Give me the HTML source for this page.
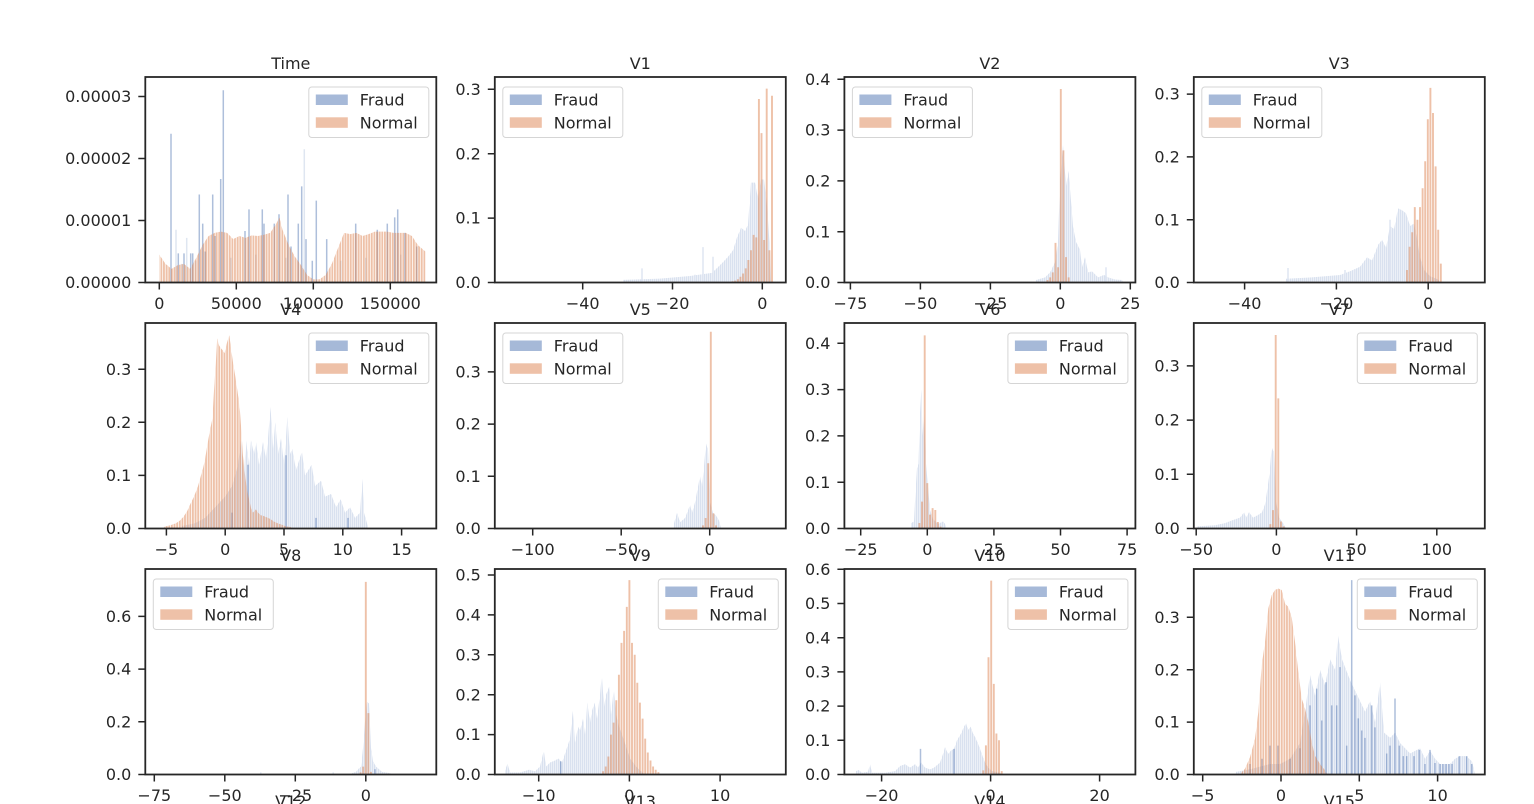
<!DOCTYPE html>
<html><head><meta charset="utf-8">
<style>
body{margin:0;background:#fff}
svg{display:block}
text{font-family:"DejaVu Sans","Liberation Sans",sans-serif;font-size:16px;fill:#262626}
.e{text-anchor:end}.m{text-anchor:middle}
.fr{fill:none;stroke:#262626;stroke-width:1.8}
.tk{fill:none;stroke:#262626;stroke-width:1.5}
.lb{fill:#fff;fill-opacity:.8;stroke:#d5d5d5;stroke-width:1}
.lb2{fill:url(#pb)}
.ls{fill:#dfe6f2}
.dk{fill:#4c72b0;fill-opacity:.45}
.lt{fill:#4c72b0;fill-opacity:.18}
.or{fill:#dd8452;fill-opacity:.5}
</style></head><body>
<svg width="1534" height="804" viewBox="0 0 1534 804" xmlns="http://www.w3.org/2000/svg">
<defs>
<pattern id="po" patternUnits="userSpaceOnUse" width="2.63" height="4"><rect width="1.9" height="4" fill="#dd8452" fill-opacity=".5"/></pattern>
<pattern id="pb" patternUnits="userSpaceOnUse" width="2" height="4"><rect width="1.5" height="4" fill="#d9e1ef"/></pattern>
</defs>
<rect width="1534" height="804" fill="#fff"/>

<!-- ===== Time ===== -->
<g transform="matrix(1 0 0 -62 0 282.5)">
<path class="dk" d="M170.25 0h1.5v2.4h-1.5zM177.55 0h1.5v.47h-1.5zM183.25 0h1.5v.47h-1.5zM189.95 0h1.5v.47h-1.5zM191.95 0h1.5v.47h-1.5zM198.55 0h1.5v1.42h-1.5zM201.95 0h1.5v.95h-1.5zM204.55 0h1.5v.5h-1.5zM211.95 0h1.5v1.42h-1.5zM214.25 0h1.5v.75h-1.5zM219.95 0h1.5v1.67h-1.5zM222.55 0h1.5v3.1h-1.5zM244.25 0h1.5v.83h-1.5zM248.25 0h1.5v1.18h-1.5zM261.55 0h1.5v1.18h-1.5zM263.25 0h1.5v.95h-1.5zM273.55 0h1.5v.95h-1.5zM278.25 0h1.5v1.1h-1.5zM287.25 0h1.5v1.42h-1.5zM290.25 0h1.5v.58h-1.5zM297.55 0h1.5v.95h-1.5zM300.95 0h1.5v1.55h-1.5zM305.25 0h1.5v.7h-1.5zM311.55 0h1.5v.35h-1.5zM315.55 0h1.5v1.32h-1.5zM325.95 0h1.5v.7h-1.5zM354.95 0h1.5v.95h-1.5zM376.55 0h1.5v.85h-1.5zM386.55 0h1.5v.95h-1.5zM393.95 0h1.5v1.05h-1.5zM396.95 0h1.5v1.18h-1.5zM404.25 0h1.5v.8h-1.5zM415.95 0h1.5v.58h-1.5z"/>
<path class="lt" d="M175.25 0h1.5v.85h-1.5zM185.95 0h1.5v.72h-1.5zM303.55 0h1.5v2.15h-1.5zM181 0h1.5v.3h-1.5zM195 0h1.5v.35h-1.5zM230 0h1.5v.4h-1.5zM255 0h1.5v.45h-1.5zM285 0h1.5v.4h-1.5zM340 0h1.5v.35h-1.5zM365 0h1.5v.4h-1.5zM400 0h1.5v.45h-1.5z"/>
<polygon fill="url(#po)" points="159.3,0 159.3,.45 165.5,.3 171.6,.22 177.8,.28 183.9,.3 190.1,.22 196.3,.4 202.4,.6 208.6,.75 214.7,.8 220.9,.82 227.1,.8 233.2,.7 239.4,.75 245.5,.72 251.7,.76 257.9,.75 264,.77 270.2,.8 276.3,.95 279.4,1.05 282.5,.85 288.7,.6 294.8,.42 301,.28 307.1,.12 313.3,.05 319.5,.05 325.6,.12 331.8,.3 337.9,.55 344.1,.8 350.3,.78 356.4,.8 362.6,.75 368.7,.78 374.9,.82 381.1,.82 387.2,.82 393.4,.8 399.5,.8 405.7,.8 411.9,.75 418,.6 425.4,.5 425.4,0"/>
</g>

<!-- ===== V1 ===== -->
<g transform="matrix(1 0 0 -644 0 282.5)">
<path class="lb2" d="M623 0V.004L660 .006 690 .01 712 .015 722 .03 728 .04 733 .05 737 .07 741 .085 745 .08 748 .09 751 .155 755 .155 758 .13 761 .16 764 .16 767 .12 770 .05 771 0Z"/>
<path class="ls" d="M641.25 0h1.5v.022h-1.5zM702.25 0h1.5v.055h-1.5zM712.25 0h1.5v.04h-1.5zM694.25 0h1.5v.012h-1.5z"/>
<path class="or" d="M731.65 0h1.9v.002h-1.9zM734.25 0h1.9v.003h-1.9zM736.95 0h1.9v.005h-1.9zM739.55 0h1.9v.009h-1.9zM742.15 0h1.9v.014h-1.9zM744.75 0h1.9v.022h-1.9zM747.45 0h1.9v.035h-1.9zM750.05 0h1.9v.05h-1.9zM752.65 0h1.9v.074h-1.9zM755.35 0h1.9v.07h-1.9zM757.95 0h1.9v.285h-1.9zM760.55 0h1.9v.232h-1.9zM763.15 0h1.9v.066h-1.9zM765.75 0h1.9v.301h-1.9zM768.45 0h1.9v.05h-1.9zM771.05 0h1.9v.29h-1.9z"/>
</g>

<!-- ===== V2 ===== -->
<g transform="matrix(1 0 0 -508 0 282.5)">
<path class="lb2" d="M1036 0V.005L1045 .01 1050 .02 1055 .04 1058 .08 1060 .2 1063 .27 1066 .19 1068.5 .22 1071 .16 1073 .11 1076 .08 1080 .064 1082 .03 1085 .05 1088 .02 1092 .022 1098 .01 1104 .015 1108 .01 1115 .006 1122 .005 1123 0Z"/>
<path class="ls" d="M1105.25 0h1.5v.03h-1.5z"/>
<path class="or" d="M1046.55 0h1.9v.005h-1.9zM1049.25 0h1.9v.01h-1.9zM1051.85 0h1.9v.02h-1.9zM1054.55 0h1.9v.078h-1.9zM1057.15 0h1.9v.03h-1.9zM1059.85 0h1.9v.381h-1.9zM1062.45 0h1.9v.26h-1.9zM1065.05 0h1.9v.05h-1.9zM1067.75 0h1.9v.01h-1.9z"/>
</g>

<!-- ===== V3 ===== -->
<g transform="matrix(1 0 0 -628 0 282.5)">
<path class="lb2" d="M1286 0V.006L1310 .008 1325 .01 1340 .012 1350 .018 1360 .025 1367 .04 1372 .035 1378 .06 1382 .068 1386 .055 1390 .09 1394 .085 1398 .118 1402 .115 1406 .11 1410 .09 1414 .094 1417 .07 1420 .04 1424 .02 1430 .01 1438 .005 1440 0Z"/>
<path class="ls" d="M1287.25 0h1.5v.023h-1.5zM1344.25 0h1.5v.02h-1.5zM1354.25 0h1.5v.02h-1.5zM1389.25 0h1.5v.1h-1.5z"/>
<path class="or" d="M1406.05 0h1.9v.02h-1.9zM1408.65 0h1.9v.057h-1.9zM1411.25 0h1.9v.08h-1.9zM1413.85 0h1.9v.12h-1.9zM1416.45 0h1.9v.1h-1.9zM1419.05 0h1.9v.12h-1.9zM1421.65 0h1.9v.15h-1.9zM1424.25 0h1.9v.193h-1.9zM1426.85 0h1.9v.26h-1.9zM1429.45 0h1.9v.31h-1.9zM1432.05 0h1.9v.27h-1.9zM1434.65 0h1.9v.185h-1.9zM1437.25 0h1.9v.084h-1.9zM1439.85 0h1.9v.03h-1.9z"/>
</g>

<!-- ===== V4 ===== -->
<g transform="matrix(1 0 0 -531 0 528.5)">
<path class="lb2" d="M182 0V.005L195 .01 205 .02 215 .04 225 .06 232 .08 238 .12 241 .166 244 .1 246 .166 249 .12 251 .166 254 .14 256 .163 259 .12 263 .163 266 .13 268 .17 270.5 .229 273 .15 275.3 .2 278 .14 281 .17 284 .12 287.4 .21 290 .14 292.2 .15 296 .11 301.9 .145 305 .1 311.6 .12 315 .08 321 .09 325 .06 331 .065 336 .04 340.6 .055 345 .03 350 .04 355 .02 360 .03 362.4 .094 364 .03 367 .01 368 0Z"/>
<path class="dk" d="M247.25 0h1.5v.12h-1.5zM285.25 0h1.5v.138h-1.5zM231.25 0h1.5v.03h-1.5zM315.25 0h1.5v.02h-1.5zM347.25 0h1.5v.02h-1.5z"/>
<polygon fill="url(#po)" points="163,0 165,.004 170,.006 176,.01 180,.015 183.4,.022 187,.032 190.6,.047 194,.06 197.9,.079 201,.1 203,.113 205,.13 207.6,.16 210,.185 212.4,.207 214,.26 215.8,.31 217.2,.358 219,.345 221.1,.339 223,.335 224.5,.33 227,.35 229.3,.364 231,.34 233.2,.31 235,.29 236.6,.27 238.5,.245 240,.22 241.5,.18 242.9,.138 244.5,.11 246.3,.082 248.5,.06 251.1,.038 253,.03 255.9,.036 258,.03 260.8,.025 263,.024 265.6,.022 268,.02 270.4,.018 274,.013 277.7,.01 282,.007 286,.004 290,.003 295,0"/>
</g>

<!-- ===== V5 ===== -->
<g transform="matrix(1 0 0 -522 0 528.5)">
<path class="lb2" d="M674 0V.01L677 .03 680 .012 685 .02 690 .045 692 .03 695 .05 698 .08 700 .1 702 .08 704 .12 706 .163 708 .15 710 .05 713 .03 716 .025 719 .015 721 0Z"/>
<path class="or" d="M702.05 0h1.9v.006h-1.9zM704.65 0h1.9v.02h-1.9zM707.25 0h1.9v.125h-1.9zM709.85 0h1.9v.377h-1.9zM712.45 0h1.9v.029h-1.9zM715.05 0h1.9v.006h-1.9z"/>
</g>

<!-- ===== V6 ===== -->
<g transform="matrix(1 0 0 -463 0 528.5)">
<path class="lb2" d="M911 0V.012L914 .015 915.5 .08 917 .13 918.5 .14 920 .25 921.4 .3 922.5 .2 924 .25 926 .14 928 .09 930 .04 933 .02 938 .01 943 .015 945 .01 946 0Z"/>
<path class="or" d="M918.45 0h1.9v.012h-1.9zM921.05 0h1.9v.058h-1.9zM923.75 0h1.9v.417h-1.9zM926.35 0h1.9v.098h-1.9zM929.05 0h1.9v.03h-1.9zM931.65 0h1.9v.044h-1.9zM934.35 0h1.9v.04h-1.9zM936.95 0h1.9v.014h-1.9zM939.65 0h1.9v.004h-1.9z"/>
</g>

<!-- ===== V7 ===== -->
<g transform="matrix(1 0 0 -542 0 528.5)">
<path class="lb2" d="M1197 0V.004L1215 .006 1225 .01 1232 .015 1240 .02 1244 .03 1246 .02 1249 .03 1253 .02 1258 .025 1262 .03 1265 .045 1267 .068 1269.4 .1 1271.7 .15 1274 .14 1276 .05 1279 .02 1283 .01 1286 0Z"/>
<path class="or" d="M1269.45 0h1.9v.008h-1.9zM1272.05 0h1.9v.034h-1.9zM1274.75 0h1.9v.357h-1.9zM1277.35 0h1.9v.24h-1.9zM1280.05 0h1.9v.013h-1.9zM1282.65 0h1.9v.004h-1.9z"/>
</g>

<!-- ===== V8 ===== -->
<g transform="matrix(1 0 0 -263.5 0 774.5)">
<path class="lb2" d="M352 0V.005L356 .01 358 .02 361 .03 363 .1 365 .2 367 .275 369 .27 371 .1 373 .05 376 .03 379 .02 382 .01 390 .005 392 0Z"/>
<path class="ls" d="M260 0h1.5v.008h-1.5zM332.5 0h1.5v.008h-1.5z"/>
<path class="dk" d="M374.25 0h1.5v.02h-1.5z"/>
<path class="or" d="M359.65 0h1.9v.008h-1.9zM362.25 0h1.9v.03h-1.9zM364.85 0h1.9v.731h-1.9zM367.45 0h1.9v.233h-1.9zM370.05 0h1.9v.01h-1.9z"/>
</g>

<!-- ===== V9 ===== -->
<g transform="matrix(1 0 0 -399 0 774.5)">
<path class="lb2" d="M505 0V.01L507.5 .027 510 .005 520 .005 529 .012 535 .008 540 .02 543.8 .06 546 .02 550 .03 555 .035 558.3 .04 562 .03 566 .06 570 .09 572.8 .16 575 .08 578 .12 580 .11 583 .14 585 .1 587.3 .18 590 .13 592 .16 594.6 .18 597 .14 600 .2 601.8 .25 604 .17 606 .2 609.1 .22 611 .15 613.8 .215 616 .15 619 .12 622 .1 626 .07 630 .04 633 .03 636 .02 640 .01 645 0Z"/>
<path class="dk" d="M559.95 0h1.5v.033h-1.5z"/>
<path class="or" d="M602.15 0h1.9v.008h-1.9zM604.75 0h1.9v.02h-1.9zM607.45 0h1.9v.045h-1.9zM610.05 0h1.9v.1h-1.9zM612.65 0h1.9v.13h-1.9zM615.35 0h1.9v.186h-1.9zM617.95 0h1.9v.25h-1.9zM620.55 0h1.9v.33h-1.9zM623.15 0h1.9v.36h-1.9zM625.85 0h1.9v.42h-1.9zM628.45 0h1.9v.487h-1.9zM631.05 0h1.9v.33h-1.9zM633.75 0h1.9v.3h-1.9zM636.35 0h1.9v.23h-1.9zM638.95 0h1.9v.18h-1.9zM641.65 0h1.9v.14h-1.9zM644.25 0h1.9v.09h-1.9zM646.85 0h1.9v.055h-1.9zM649.55 0h1.9v.035h-1.9zM652.15 0h1.9v.02h-1.9zM654.75 0h1.9v.012h-1.9zM657.45 0h1.9v.006h-1.9z"/>
</g>

<!-- ===== V10 ===== -->
<g transform="matrix(1 0 0 -342 0 774.5)">
<path class="lb2" d="M856 0V.01L858.4 .013 862 .005 868 .008 870 .03 872 .005 885 .005 895 .01 900 .025 905 .03 910 .02 915 .03 918 .02 921 .035 925 .02 930 .015 934 .02 938 .03 940 .035 943 .06 945 .08 948 .06 951 .07 954 .075 957 .1 961 .12 964 .14 966 .15 968 .13 970.5 .14 973 .12 975 .11 978 .09 980 .075 983 .05 985 .035 988 .02 992 .01 1000 .005 1002 0Z"/>
<path class="dk" d="M919.75 0h1.5v.075h-1.5zM953.25 0h1.5v.075h-1.5z"/>
<path class="or" d="M982.35 0h1.9v.012h-1.9zM984.95 0h1.9v.085h-1.9zM987.55 0h1.9v.343h-1.9zM990.25 0h1.9v.567h-1.9zM992.85 0h1.9v.265h-1.9zM995.45 0h1.9v.12h-1.9zM998.05 0h1.9v.1h-1.9zM1000.75 0h1.9v.01h-1.9z"/>
</g>

<!-- ===== V11 ===== -->
<g transform="matrix(1 0 0 -524 0 774.5)">
<path class="lb2" d="M1236 0V.005L1250 .01 1260 .015 1270 .02 1280 .02 1290 .03 1300 .06 1305 .12 1310 .19 1315 .15 1320 .2 1325 .17 1330 .22 1335 .2 1338 .265 1342 .22 1346 .2 1350 .18 1355 .16 1360 .14 1365 .12 1370 .14 1375 .1 1380 .176 1384 .08 1390 .07 1395 .08 1400 .06 1405 .05 1410 .04 1415 .045 1420 .05 1425 .03 1430 .045 1435 .03 1440 .02 1450 .02 1455 .03 1460 .035 1466 .035 1472 .025 1475 0Z"/>
<path class="dk" d="M1309.25 0h1.5v.132h-1.5zM1315.95 0h1.5v.164h-1.5zM1320.95 0h1.5v.103h-1.5zM1325.25 0h1.5v.176h-1.5zM1330.95 0h1.5v.132h-1.5zM1335.95 0h1.5v.132h-1.5zM1339.25 0h1.5v.205h-1.5zM1345.95 0h1.5v.055h-1.5zM1350.95 0h1.5v.371h-1.5zM1354.25 0h1.5v.151h-1.5zM1357.55 0h1.5v.107h-1.5zM1360.95 0h1.5v.084h-1.5zM1364.25 0h1.5v.07h-1.5zM1370.95 0h1.5v.132h-1.5zM1374.25 0h1.5v.09h-1.5zM1385.95 0h1.5v.04h-1.5zM1389.25 0h1.5v.055h-1.5zM1394.25 0h1.5v.145h-1.5zM1398.55 0h1.5v.055h-1.5zM1402.55 0h1.5v.035h-1.5zM1405.95 0h1.5v.035h-1.5zM1413.25 0h1.5v.035h-1.5zM1418.55 0h1.5v.047h-1.5zM1424.25 0h1.5v.02h-1.5zM1429.25 0h1.5v.047h-1.5zM1434.25 0h1.5v.022h-1.5zM1439.25 0h1.5v.02h-1.5zM1442.25 0h1.5v.02h-1.5zM1445.25 0h1.5v.02h-1.5zM1448.25 0h1.5v.02h-1.5zM1451.25 0h1.5v.02h-1.5zM1458.55 0h1.5v.035h-1.5zM1465.95 0h1.5v.035h-1.5zM1470.95 0h1.5v.02h-1.5zM1249.25 0h1.5v.02h-1.5zM1261.25 0h1.5v.03h-1.5zM1269.25 0h1.5v.055h-1.5zM1277.25 0h1.5v.055h-1.5zM1289.25 0h1.5v.03h-1.5zM1299.25 0h1.5v.05h-1.5z"/>
<polygon fill="url(#po)" points="1241,0 1242,.005 1245,.011 1250,.033 1255,.068 1258.3,.119 1261.7,.208 1265,.253 1268.3,.317 1271.7,.342 1275,.352 1278.3,.355 1281.7,.352 1285,.326 1288.3,.32 1291.7,.3 1295,.253 1298.3,.196 1301.7,.145 1305,.126 1308.3,.1 1311.7,.062 1315,.036 1320,.02 1325,.008 1327,0"/>
</g>

<!-- ===== Frames ===== -->
<rect class="fr" x="145.3" y="77" width="291" height="205.5"/>
<rect class="fr" x="494.8" y="77" width="291" height="205.5"/>
<rect class="fr" x="844.4" y="77" width="291" height="205.5"/>
<rect class="fr" x="1193.8" y="77" width="291" height="205.5"/>
<rect class="fr" x="145.3" y="323" width="291" height="205.5"/>
<rect class="fr" x="494.8" y="323" width="291" height="205.5"/>
<rect class="fr" x="844.4" y="323" width="291" height="205.5"/>
<rect class="fr" x="1193.8" y="323" width="291" height="205.5"/>
<rect class="fr" x="145.3" y="569" width="291" height="205.5"/>
<rect class="fr" x="494.8" y="569" width="291" height="205.5"/>
<rect class="fr" x="844.4" y="569" width="291" height="205.5"/>
<rect class="fr" x="1193.8" y="569" width="291" height="205.5"/>

<!-- ===== Ticks ===== -->
<path class="tk" d="M138.3 282.5h7M138.3 220.5h7M138.3 158.5h7M138.3 96.5h7M159.3 282.5v7M236.3 282.5v7M313.3 282.5v7M390.3 282.5v7
M487.8 282.5h7M487.8 218.1h7M487.8 153.7h7M487.8 89.3h7M582.7 282.5v7M672.5 282.5v7M762.3 282.5v7
M837.4 282.5h7M837.4 231.7h7M837.4 180.9h7M837.4 130.1h7M837.4 79.3h7M850.4 282.5v7M920.4 282.5v7M990.4 282.5v7M1060.3 282.5v7M1130.3 282.5v7
M1186.8 282.5h7M1186.8 219.7h7M1186.8 156.9h7M1186.8 94.1h7M1244.6 282.5v7M1336.4 282.5v7M1428.2 282.5v7
M138.3 528.5h7M138.3 475.4h7M138.3 422.3h7M138.3 369.2h7M166.4 528.5v7M225.2 528.5v7M284 528.5v7M342.8 528.5v7M401.6 528.5v7
M487.8 528.5h7M487.8 476.3h7M487.8 424.1h7M487.8 371.9h7M532.7 528.5v7M621.2 528.5v7M709.7 528.5v7
M837.4 528.5h7M837.4 482.2h7M837.4 435.9h7M837.4 389.6h7M837.4 343.3h7M860.7 528.5v7M927.3 528.5v7M993.9 528.5v7M1060.5 528.5v7M1127.1 528.5v7
M1186.8 528.5h7M1186.8 474.3h7M1186.8 420.1h7M1186.8 365.9h7M1196.2 528.5v7M1276.4 528.5v7M1356.6 528.5v7M1436.8 528.5v7
M138.3 774.5h7M138.3 721.8h7M138.3 669.1h7M138.3 616.4h7M154.3 774.5v7M224.8 774.5v7M295.3 774.5v7M365.8 774.5v7
M487.8 774.5h7M487.8 734.6h7M487.8 694.7h7M487.8 654.8h7M487.8 614.9h7M487.8 575h7M538.7 774.5v7M629.4 774.5v7M720.1 774.5v7
M837.4 774.5h7M837.4 740.3h7M837.4 706.1h7M837.4 671.9h7M837.4 637.7h7M837.4 603.5h7M837.4 569.3h7M881.6 774.5v7M990.6 774.5v7M1099.6 774.5v7
M1186.8 774.5h7M1186.8 722.1h7M1186.8 669.7h7M1186.8 617.3h7M1202.7 774.5v7M1281 774.5v7M1359.3 774.5v7M1437.6 774.5v7"/>

<!-- ===== Titles ===== -->
<text class="m" x="290.8" y="69">Time</text>
<text class="m" x="640.3" y="69">V1</text>
<text class="m" x="989.9" y="69">V2</text>
<text class="m" x="1339.3" y="69">V3</text>
<text class="m" x="290.8" y="315">V4</text>
<text class="m" x="640.3" y="315">V5</text>
<text class="m" x="989.9" y="315">V6</text>
<text class="m" x="1339.3" y="315">V7</text>
<text class="m" x="290.8" y="561">V8</text>
<text class="m" x="640.3" y="561">V9</text>
<text class="m" x="989.9" y="561">V10</text>
<text class="m" x="1339.3" y="561">V11</text>
<text class="m" x="290.8" y="807">V12</text>
<text class="m" x="640.3" y="807">V13</text>
<text class="m" x="989.9" y="807">V14</text>
<text class="m" x="1339.3" y="807">V15</text>

<!-- ===== Y tick labels ===== -->
<text class="e" x="131.3" y="288.1">0.00000</text>
<text class="e" x="131.3" y="226.1">0.00001</text>
<text class="e" x="131.3" y="164.1">0.00002</text>
<text class="e" x="131.3" y="102.1">0.00003</text>

<text class="e" x="480.8" y="288.1">0.0</text>
<text class="e" x="480.8" y="223.7">0.1</text>
<text class="e" x="480.8" y="159.3">0.2</text>
<text class="e" x="480.8" y="94.9">0.3</text>

<text class="e" x="830.4" y="288.1">0.0</text>
<text class="e" x="830.4" y="237.3">0.1</text>
<text class="e" x="830.4" y="186.5">0.2</text>
<text class="e" x="830.4" y="135.7">0.3</text>
<text class="e" x="830.4" y="84.9">0.4</text>

<text class="e" x="1179.8" y="288.1">0.0</text>
<text class="e" x="1179.8" y="225.3">0.1</text>
<text class="e" x="1179.8" y="162.5">0.2</text>
<text class="e" x="1179.8" y="99.7">0.3</text>

<text class="e" x="131.3" y="534.1">0.0</text>
<text class="e" x="131.3" y="481">0.1</text>
<text class="e" x="131.3" y="427.9">0.2</text>
<text class="e" x="131.3" y="374.8">0.3</text>

<text class="e" x="480.8" y="534.1">0.0</text>
<text class="e" x="480.8" y="481.9">0.1</text>
<text class="e" x="480.8" y="429.7">0.2</text>
<text class="e" x="480.8" y="377.5">0.3</text>

<text class="e" x="830.4" y="534.1">0.0</text>
<text class="e" x="830.4" y="487.8">0.1</text>
<text class="e" x="830.4" y="441.5">0.2</text>
<text class="e" x="830.4" y="395.2">0.3</text>
<text class="e" x="830.4" y="348.9">0.4</text>

<text class="e" x="1179.8" y="534.1">0.0</text>
<text class="e" x="1179.8" y="479.9">0.1</text>
<text class="e" x="1179.8" y="425.7">0.2</text>
<text class="e" x="1179.8" y="371.5">0.3</text>

<text class="e" x="131.3" y="780.1">0.0</text>
<text class="e" x="131.3" y="727.4">0.2</text>
<text class="e" x="131.3" y="674.7">0.4</text>
<text class="e" x="131.3" y="622">0.6</text>

<text class="e" x="480.8" y="780.1">0.0</text>
<text class="e" x="480.8" y="740.2">0.1</text>
<text class="e" x="480.8" y="700.3">0.2</text>
<text class="e" x="480.8" y="660.4">0.3</text>
<text class="e" x="480.8" y="620.5">0.4</text>
<text class="e" x="480.8" y="580.6">0.5</text>

<text class="e" x="830.4" y="780.1">0.0</text>
<text class="e" x="830.4" y="745.9">0.1</text>
<text class="e" x="830.4" y="711.7">0.2</text>
<text class="e" x="830.4" y="677.5">0.3</text>
<text class="e" x="830.4" y="643.3">0.4</text>
<text class="e" x="830.4" y="609.1">0.5</text>
<text class="e" x="830.4" y="574.9">0.6</text>

<text class="e" x="1179.8" y="780.1">0.0</text>
<text class="e" x="1179.8" y="727.7">0.1</text>
<text class="e" x="1179.8" y="675.3">0.2</text>
<text class="e" x="1179.8" y="622.9">0.3</text>

<!-- ===== X tick labels ===== -->
<text class="m" x="159.3" y="308.8">0</text>
<text class="m" x="236.3" y="308.8">50000</text>
<text class="m" x="313.3" y="308.8">100000</text>
<text class="m" x="390.3" y="308.8">150000</text>

<text class="m" x="582.7" y="308.8">−40</text>
<text class="m" x="672.5" y="308.8">−20</text>
<text class="m" x="762.3" y="308.8">0</text>

<text class="m" x="850.4" y="308.8">−75</text>
<text class="m" x="920.4" y="308.8">−50</text>
<text class="m" x="990.4" y="308.8">−25</text>
<text class="m" x="1060.3" y="308.8">0</text>
<text class="m" x="1130.3" y="308.8">25</text>

<text class="m" x="1244.6" y="308.8">−40</text>
<text class="m" x="1336.4" y="308.8">−20</text>
<text class="m" x="1428.2" y="308.8">0</text>

<text class="m" x="166.4" y="554.8">−5</text>
<text class="m" x="225.2" y="554.8">0</text>
<text class="m" x="284" y="554.8">5</text>
<text class="m" x="342.8" y="554.8">10</text>
<text class="m" x="401.6" y="554.8">15</text>

<text class="m" x="532.7" y="554.8">−100</text>
<text class="m" x="621.2" y="554.8">−50</text>
<text class="m" x="709.7" y="554.8">0</text>

<text class="m" x="860.7" y="554.8">−25</text>
<text class="m" x="927.3" y="554.8">0</text>
<text class="m" x="993.9" y="554.8">25</text>
<text class="m" x="1060.5" y="554.8">50</text>
<text class="m" x="1127.1" y="554.8">75</text>

<text class="m" x="1196.2" y="554.8">−50</text>
<text class="m" x="1276.4" y="554.8">0</text>
<text class="m" x="1356.6" y="554.8">50</text>
<text class="m" x="1436.8" y="554.8">100</text>

<text class="m" x="154.3" y="800.8">−75</text>
<text class="m" x="224.8" y="800.8">−50</text>
<text class="m" x="295.3" y="800.8">−25</text>
<text class="m" x="365.8" y="800.8">0</text>

<text class="m" x="538.7" y="800.8">−10</text>
<text class="m" x="629.4" y="800.8">0</text>
<text class="m" x="720.1" y="800.8">10</text>

<text class="m" x="881.6" y="800.8">−20</text>
<text class="m" x="990.6" y="800.8">0</text>
<text class="m" x="1099.6" y="800.8">20</text>

<text class="m" x="1202.7" y="800.8">−5</text>
<text class="m" x="1281" y="800.8">0</text>
<text class="m" x="1359.3" y="800.8">5</text>
<text class="m" x="1437.6" y="800.8">10</text>

<!-- ===== Legends ===== -->
<g>
<rect class="lb" x="308.8" y="87" width="120" height="50.5" rx="3"/>
<rect x="315.8" y="94.5" width="32" height="10.5" fill="#a6b9d8"/><rect x="315.8" y="117.3" width="32" height="10.5" fill="#eec1a8"/>
<text x="359.8" y="105.5">Fraud</text><text x="359.8" y="128.3">Normal</text>

<rect class="lb" x="502.8" y="87" width="120" height="50.5" rx="3"/>
<rect x="509.8" y="94.5" width="32" height="10.5" fill="#a6b9d8"/><rect x="509.8" y="117.3" width="32" height="10.5" fill="#eec1a8"/>
<text x="553.8" y="105.5">Fraud</text><text x="553.8" y="128.3">Normal</text>

<rect class="lb" x="852.4" y="87" width="120" height="50.5" rx="3"/>
<rect x="859.4" y="94.5" width="32" height="10.5" fill="#a6b9d8"/><rect x="859.4" y="117.3" width="32" height="10.5" fill="#eec1a8"/>
<text x="903.4" y="105.5">Fraud</text><text x="903.4" y="128.3">Normal</text>

<rect class="lb" x="1201.8" y="87" width="120" height="50.5" rx="3"/>
<rect x="1208.8" y="94.5" width="32" height="10.5" fill="#a6b9d8"/><rect x="1208.8" y="117.3" width="32" height="10.5" fill="#eec1a8"/>
<text x="1252.8" y="105.5">Fraud</text><text x="1252.8" y="128.3">Normal</text>

<rect class="lb" x="308.8" y="333" width="120" height="50.5" rx="3"/>
<rect x="315.8" y="340.5" width="32" height="10.5" fill="#a6b9d8"/><rect x="315.8" y="363.3" width="32" height="10.5" fill="#eec1a8"/>
<text x="359.8" y="351.5">Fraud</text><text x="359.8" y="374.3">Normal</text>

<rect class="lb" x="502.8" y="333" width="120" height="50.5" rx="3"/>
<rect x="509.8" y="340.5" width="32" height="10.5" fill="#a6b9d8"/><rect x="509.8" y="363.3" width="32" height="10.5" fill="#eec1a8"/>
<text x="553.8" y="351.5">Fraud</text><text x="553.8" y="374.3">Normal</text>

<rect class="lb" x="1007.9" y="333" width="120" height="50.5" rx="3"/>
<rect x="1014.9" y="340.5" width="32" height="10.5" fill="#a6b9d8"/><rect x="1014.9" y="363.3" width="32" height="10.5" fill="#eec1a8"/>
<text x="1058.9" y="351.5">Fraud</text><text x="1058.9" y="374.3">Normal</text>

<rect class="lb" x="1357.3" y="333" width="120" height="50.5" rx="3"/>
<rect x="1364.3" y="340.5" width="32" height="10.5" fill="#a6b9d8"/><rect x="1364.3" y="363.3" width="32" height="10.5" fill="#eec1a8"/>
<text x="1408.3" y="351.5">Fraud</text><text x="1408.3" y="374.3">Normal</text>

<rect class="lb" x="153.3" y="579" width="120" height="50.5" rx="3"/>
<rect x="160.3" y="586.5" width="32" height="10.5" fill="#a6b9d8"/><rect x="160.3" y="609.3" width="32" height="10.5" fill="#eec1a8"/>
<text x="204.3" y="597.5">Fraud</text><text x="204.3" y="620.3">Normal</text>

<rect class="lb" x="658.3" y="579" width="120" height="50.5" rx="3"/>
<rect x="665.3" y="586.5" width="32" height="10.5" fill="#a6b9d8"/><rect x="665.3" y="609.3" width="32" height="10.5" fill="#eec1a8"/>
<text x="709.3" y="597.5">Fraud</text><text x="709.3" y="620.3">Normal</text>

<rect class="lb" x="1007.9" y="579" width="120" height="50.5" rx="3"/>
<rect x="1014.9" y="586.5" width="32" height="10.5" fill="#a6b9d8"/><rect x="1014.9" y="609.3" width="32" height="10.5" fill="#eec1a8"/>
<text x="1058.9" y="597.5">Fraud</text><text x="1058.9" y="620.3">Normal</text>

<rect class="lb" x="1357.3" y="579" width="120" height="50.5" rx="3"/>
<rect x="1364.3" y="586.5" width="32" height="10.5" fill="#a6b9d8"/><rect x="1364.3" y="609.3" width="32" height="10.5" fill="#eec1a8"/>
<text x="1408.3" y="597.5">Fraud</text><text x="1408.3" y="620.3">Normal</text>
</g>
</svg>
</body></html>
